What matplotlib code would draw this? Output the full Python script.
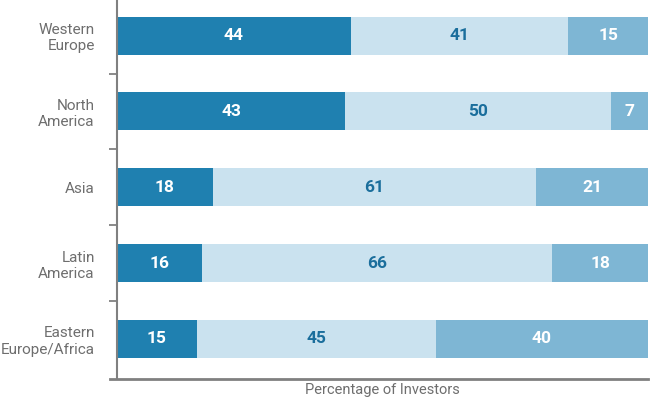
import numpy as np
from matplotlib import pyplot as plt

regions = ["Western\nEurope", "North\nAmerica", "Asia", "Latin\nAmerica", "Eastern\nEurope/Africa"]
first = [44, 43, 18, 16, 15]
second = [41, 50, 61, 66, 45]
third = [15, 7, 21, 18, 40]

plt.rcParams['font.family'] = ['Roboto', 'DejaVu Sans']

fig = plt.figure(figsize=(6.54, 4), dpi=100)
ax = fig.add_axes([117 / 654, 21 / 400, 531 / 654, 379 / 400])

y = np.arange(len(regions))
series = [first, second, third]
colors = ["#1f80b0", "#cae2ef", "#7eb6d4"]
text_colors = ["white", "#1a6e9c", "white"]

left = np.zeros(len(regions))
for vals, c, tc in zip(series, colors, text_colors):
    vals = np.array(vals)
    ax.barh(y, vals, left=left, height=0.5, color=c, edgecolor="none")
    for yi, l, v in zip(y, left, vals):
        ax.text(l + v / 2, yi, str(v), ha="center", va="center",
                color=tc, fontsize=12.5, fontweight="bold")
    left = left + vals

ax.set_xlim(0, 100)
ax.set_ylim(4.53, -0.47)

ax.set_yticks(y)
ax.set_yticklabels(regions, fontsize=11, color="#6e6e6e", linespacing=1.2)
ax.set_yticks(y[:-1] + 0.5, minor=True)
ax.tick_params(axis="y", which="major", length=0, pad=16)
ax.tick_params(axis="y", which="minor", length=6, width=1.2, color="#777777")
ax.set_xticks([])

for s in ["top", "right"]:
    ax.spines[s].set_visible(False)
ax.spines["left"].set_color("#808080")
ax.spines["left"].set_linewidth(1.5)
ax.spines["bottom"].set_color("#808080")
ax.spines["bottom"].set_linewidth(2)
ax.spines["bottom"].set_bounds(-1.4, 100)
ax.set_xlabel("Percentage of Investors", fontsize=10.5, color="#6e6e6e", labelpad=3)

fig.savefig("out.png", dpi=100)
